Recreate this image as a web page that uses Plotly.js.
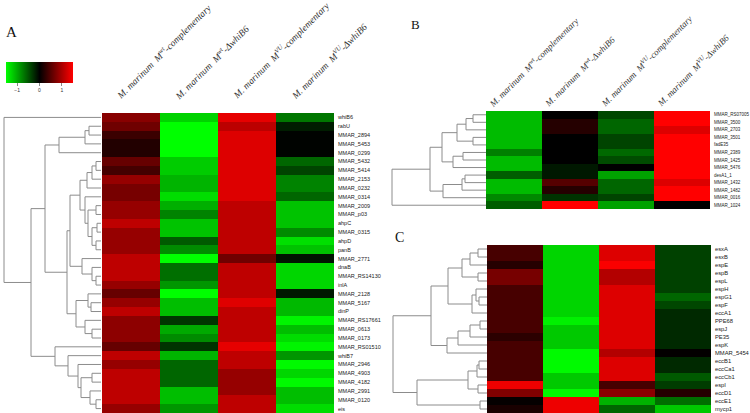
<!DOCTYPE html>
<html><head><meta charset="utf-8">
<script src="https://cdn.plot.ly/plotly-3.0.1.min.js"></script>
<style>html,body{margin:0;padding:0;background:#fff}</style>
</head><body><div id="chart" style="width:750px;height:413px"></div>
<script>
// ---------- column labels ----------
const colLabels = [
  "<i>M. marinum  M<sup>wt</sup>-complementary</i>",
  "<i>M. marinum  M<sup>wt</sup>-ΔwhiB6</i>",
  "<i>M. marinum  M<sup>VU</sup>-complementary</i>",
  "<i>M. marinum  M<sup>VU</sup>-ΔwhiB6</i>"
];
const colorTicks = [-1, 0, 1];

// ---------- panel A ----------
const genesA = ["whiB6","rabU","MMAR_2894","MMAR_5453","MMAR_0299","MMAR_5432","MMAR_5414","MMAR_2153","MMAR_0232","MMAR_0314","MMAR_2009","MMAR_p03","ahpC","MMAR_0315","ahpD","panB","MMAR_2771","dnaB","MMAR_RS14130","inlA","MMAR_2128","MMAR_5167","dinP","MMAR_RS17661","MMAR_0613","MMAR_0173","MMAR_RS01510","whiB7","MMAR_2946","MMAR_4903","MMAR_4182","MMAR_2991","MMAR_0120","eis"];
const wtCompA = [0.8,0.65,0.35,0.2,0.2,0.6,0.4,0.88,0.7,0.7,0.88,0.88,1.12,0.88,0.88,0.88,1.12,1.12,1.12,0.88,0.6,0.88,1.12,0.83,0.83,0.83,0.6,1.12,0.88,1.12,1.12,1.12,1.12,0.88];
const wtDelA  = [-1.24,-1.5,-1.5,-1.5,-1.5,-1.2,-1.2,-1.06,-1.06,-1.3,-1.03,-0.77,-1.15,-1.15,-0.53,-0.82,-1.5,-0.65,-0.65,-0.88,-1.5,-1.12,-1.12,-0.32,-1.0,-0.82,-0.3,-1.06,-0.6,-0.6,-0.6,-1.12,-1.12,-0.88];
const vuCompA = [1.35,1.1,1.3,1.3,1.3,1.3,1.3,1.3,1.3,1.3,1.12,1.12,1.12,1.12,1.12,1.12,0.65,1.12,1.12,1.12,1.12,1.32,1.12,1.12,1.12,1.12,1.35,1.12,1.12,0.88,0.88,0.88,1.12,1.12];
const vuDelA  = [-0.7,-0.17,-0.02,-0.02,-0.02,-0.6,-0.4,-0.77,-0.77,-0.6,-1.15,-1.15,-1.15,-0.82,-1.32,-1.15,-0.12,-1.26,-1.26,-1.26,-0.15,-1.09,-1.09,-1.44,-1.12,-1.3,-1.44,-0.88,-1.47,-1.26,-1.47,-1.12,-1.12,-1.3];
// dendrogram A: [height, left, right]; leaves are row indices
const treeA = [97, 0,
  [70,
    [56,
      [42, [16, [12, 1, 2], 3], 4],
      [34,
        [31,
          [21,
            [14, [9, [5, 5, 6], 7], 8],
            [16, 9, [13, [5, 10, 11], [9, [4, 12, 13], [5, 14, 15]]]]
          ],
          [19, 16, [9, 17, [5, 18, 19]]]
        ],
        [25, [13, 20, [10, 21, 22]], [16, 23, [9, 24, 25]]]
      ]
    ],
    [46, 26, [33, 27, [23, 28, [20, [9, 29, 30], [11, 31, [5, 32, 33]]]]]]
  ]
];

// ---------- panel B ----------
const genesB = ["MMAR_RS07005","MMAR_3500","MMAR_2703","MMAR_3501","fadE35","MMAR_2389","MMAR_1425","MMAR_5476","desA1_1","MMAR_1432","MMAR_1482","MMAR_0016","MMAR_1024"];
const wtCompB = [-1.1,-1.1,-1.1,-1.1,-1.1,-0.75,-1.1,-1.1,-0.55,-1.1,-1.1,-0.8,-0.55];
const wtDelB  = [0.0,0.22,0.22,0.0,0.0,0.0,0.0,-0.14,-0.14,0.5,0.22,-0.3,1.5];
const vuCompB = [-0.42,-0.6,-0.6,-0.4,-0.4,-0.62,-0.45,0.0,-0.95,-0.6,-0.6,-0.4,-0.95];
const vuDelB  = [1.5,1.5,1.3,1.5,1.5,1.5,1.5,1.5,1.5,1.3,1.5,1.5,0.0];
const treeB = [94,
  [56,
    [44, [29, [20, [13, 0, 1], 2], [13, 3, 4]], [33, [23, 5, 6], 7]],
    [43, [24, [21, 8, 9], 10], 11]
  ],
  12
];

// ---------- panel C ----------
const genesC = ["esxA","esxB","espE","espB","espL","espH","espG1","espF","eccA1","PPE68","espJ","PE35","espK","MMAR_5454","eccB1","eccCa1","eccCb1","espI","eccD1","eccE1","mycp1"];
const wtCompC = [0.42,0.42,0.22,0.7,0.7,0.42,0.42,0.42,0.42,0.42,0.42,0.25,0.42,0.42,0.42,0.42,0.42,1.4,0.75,0.03,0.15];
const wtDelC  = [-1.25,-1.25,-1.25,-1.25,-1.25,-1.25,-1.25,-1.25,-1.25,-1.42,-1.18,-1.18,-1.18,-1.47,-1.47,-1.47,-1.18,-1.18,-1.47,1.4,1.4];
const vuCompC = [1.3,1.3,1.47,1.05,1.05,1.3,1.3,1.3,1.3,1.3,1.3,1.3,1.3,1.05,1.3,1.3,1.3,0.42,0.82,-1.05,-0.6];
const vuDelC  = [-0.38,-0.38,-0.38,-0.38,-0.38,-0.38,-0.6,-0.42,-0.24,-0.24,-0.24,-0.24,-0.24,0.02,-0.24,-0.24,-0.53,-0.35,0.22,-0.65,-1.18];
const treeC = [94,
  [56,
    [39, [25, [17, [9, 0, 1], 2], [9, 3, 4]], [15, [11, 5, [8, 6, 7]], 8]],
    [40, [29, [17, [7, 9, 10], 11], 12], 13]
  ],
  [70, [19, [10, [8, 14, 15], 16], [9, 17, 18]], [7, 19, 20]]
];

// ---------- helpers ----------
const W = 750, H = 413;
const px = v => v / W;
const py = v => 1 - v / H;
const colorscale = [[0, 'rgb(0,255,0)'], [0.5, 'rgb(0,0,0)'], [1, 'rgb(255,0,0)']];

function zOf(a, b, c, d) { return a.map((v, i) => [a[i], b[i], c[i], d[i]]); }
function idx(n) { return Array.from({length: n}, (_, i) => i); }

function dendro(tree) {
  const xs = [], ys = [];
  function rec(node) {
    if (typeof node === 'number') return {y: node, h: 0};
    const l = rec(node[1]), r = rec(node[2]), h = node[0];
    xs.push(l.h, h, h, r.h, null);
    ys.push(l.y, l.y, r.y, r.y, null);
    return {y: (l.y + r.y) / 2, h: h};
  }
  rec(tree);
  return {xs, ys};
}

const traces = [];
const lineStyle = {color: '#8c8c8c', width: 1};

function addPanel(xa, ya, dxa, genes, z, tree, showScale) {
  traces.push({
    type: 'heatmap', z: z, x: [0, 1, 2, 3], y: idx(genes.length),
    xaxis: xa, yaxis: ya, colorscale: colorscale, zmin: -1.5, zmax: 1.5,
    showscale: showScale, hoverinfo: 'z',
    colorbar: showScale ? {
      orientation: 'h', x: px(6), xanchor: 'left', y: py(62), yanchor: 'top',
      len: 67, lenmode: 'pixels', thickness: 21, thicknessmode: 'pixels',
      xpad: 0, ypad: 0, outlinewidth: 0, tickvals: colorTicks, ticks: 'outside',
      ticklen: 3, tickcolor: '#888', tickfont: {family: 'Liberation Sans, Arial', size: 5, color: '#333'}
    } : undefined
  });
  const d = dendro(tree);
  traces.push({
    type: 'scatter', mode: 'lines', x: d.xs, y: d.ys, xaxis: dxa, yaxis: ya,
    line: lineStyle, hoverinfo: 'skip', showlegend: false, connectgaps: false
  });
}

addPanel('x', 'y', 'x2', genesA, zOf(wtCompA, wtDelA, vuCompA, vuDelA), treeA, true);
addPanel('x3', 'y3', 'x4', genesB, zOf(wtCompB, wtDelB, vuCompB, vuDelB), treeB, false);
addPanel('x5', 'y5', 'x6', genesC, zOf(wtCompC, wtDelC, vuCompC, vuDelC), treeC, false);

const hiddenX = (domain, range, anchor) => ({
  domain: domain, range: range, anchor: anchor, showgrid: false, zeroline: false,
  showticklabels: false, ticks: '', showline: false, fixedrange: true
});
const rowAxis = (domain, genes, anchor, fsize) => ({
  domain: domain, anchor: anchor, side: 'right', range: [genes.length - 0.5, -0.5],
  tickmode: 'array', tickvals: idx(genes.length), ticktext: genes,
  tickfont: {family: 'Liberation Sans, Arial', size: fsize, color: '#222'},
  ticks: '', ticklabelstandoff: 3, showgrid: false, zeroline: false, showline: false, fixedrange: true
});

const annotations = [];
const serif = 'Liberation Serif, Times New Roman, serif';
colLabels.forEach((t, i) => {
  annotations.push({xref: 'x', yref: 'paper', x: i, y: py(104), text: t, textangle: -45,
    xanchor: 'left', yanchor: 'bottom', xshift: -20, showarrow: false,
    font: {family: serif, size: 9.5, color: '#333'}});
  annotations.push({xref: 'x3', yref: 'paper', x: i, y: py(112), text: t, textangle: -45,
    xanchor: 'left', yanchor: 'bottom', xshift: -31, showarrow: false,
    font: {family: serif, size: 9, color: '#333'}});
});
[['A', 11, 31.5, 15], ['B', 415.5, 24, 13], ['C', 399, 237, 14]].forEach(([t, x, y, s]) => {
  annotations.push({xref: 'paper', yref: 'paper', x: px(x), y: py(y), text: t, showarrow: false,
    xanchor: 'center', yanchor: 'middle', font: {family: serif, size: s, color: '#111'}});
});

const layout = {
  width: W, height: H, margin: {l: 0, r: 0, t: 0, b: 0},
  paper_bgcolor: '#fff', plot_bgcolor: '#fff', showlegend: false,
  xaxis: hiddenX([px(102), px(334)], [-0.5, 3.5], 'y'),
  yaxis: rowAxis([0, py(113)], genesA, 'x', 5.5),
  xaxis2: hiddenX([0, px(101)], [101, 0], 'y'),
  xaxis3: hiddenX([px(486), px(710)], [-0.5, 3.5], 'y3'),
  yaxis3: rowAxis([py(209), py(111)], genesB, 'x3', 4.5),
  xaxis4: hiddenX([px(380), px(486)], [106, 0], 'y3'),
  xaxis5: hiddenX([px(487), px(711)], [-0.5, 3.5], 'y5'),
  yaxis5: rowAxis([0, py(245)], genesC, 'x5', 5.8),
  xaxis6: hiddenX([px(380), px(487)], [107, 0], 'y5'),
  annotations: annotations
};

Plotly.newPlot('chart', traces, layout, {displayModeBar: false, staticPlot: true});
</script></body></html>
